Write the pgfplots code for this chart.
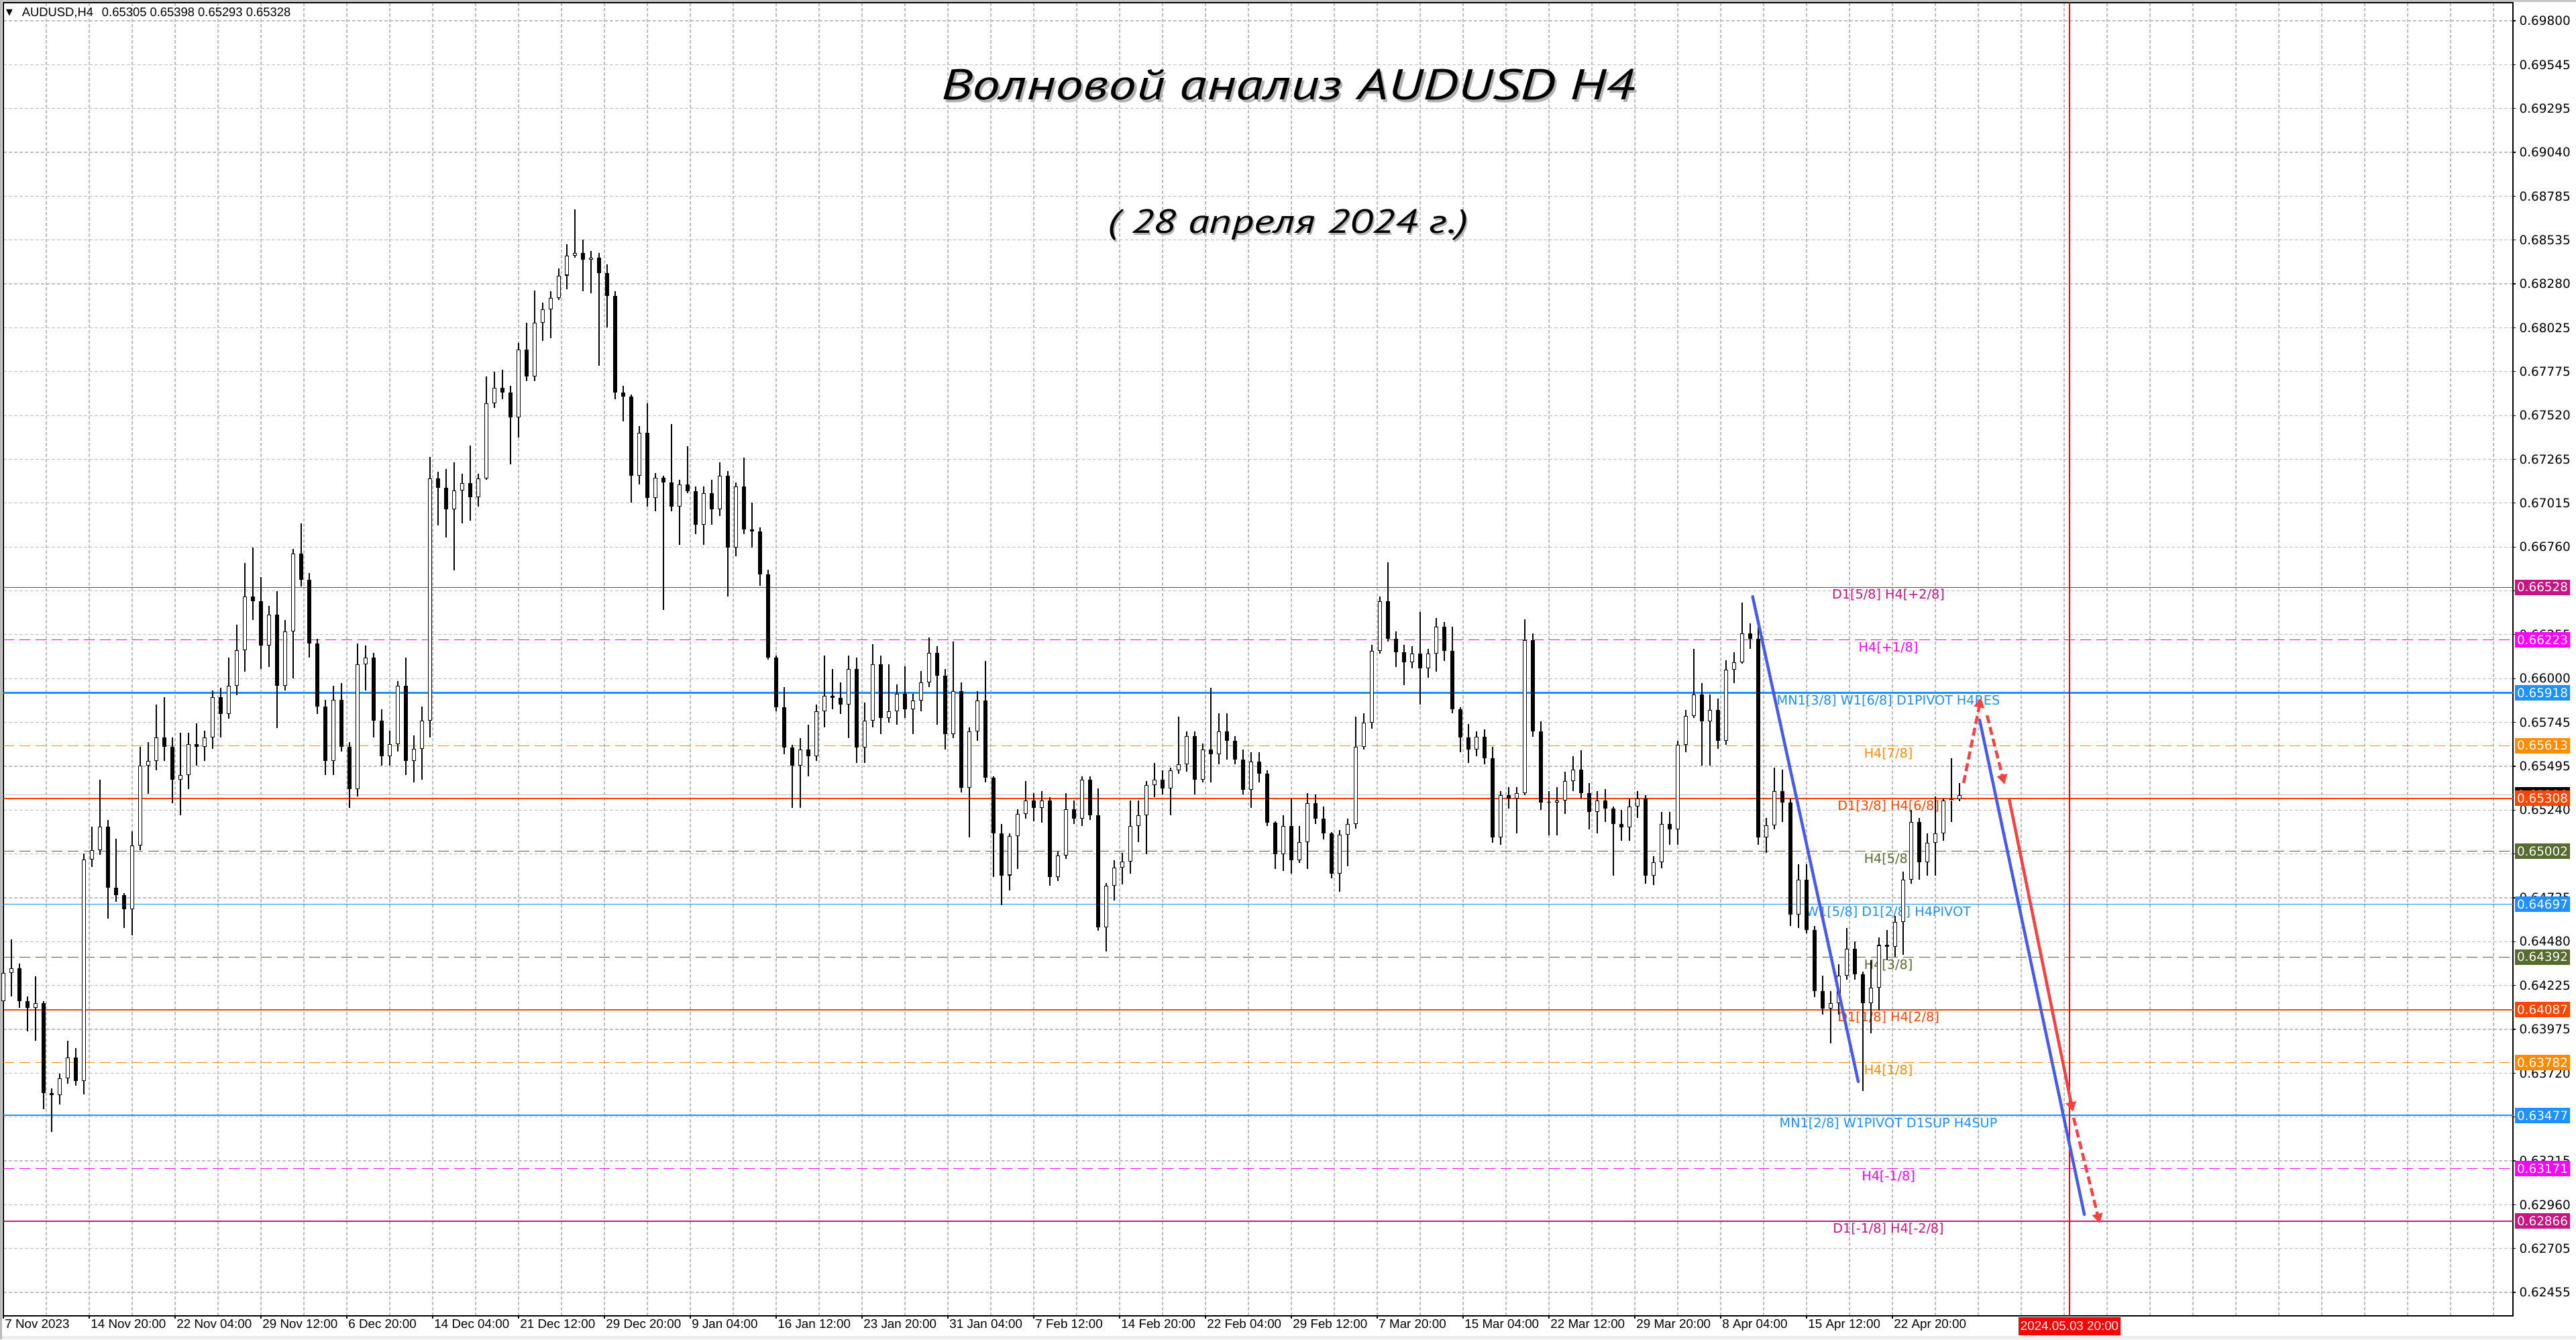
\documentclass[border=0pt]{standalone}
\usepackage{fontspec}
\setmainfont{Liberation Sans}
\newfontfamily\dejavu{DejaVu Sans}
\newfontfamily\titlefont{PT Sans}
\usepackage{graphicx}
\usepackage{pgfplots}
\usepackage{pgfplotstable}
\pgfplotsset{compat=1.18}
\usetikzlibrary{arrows.meta}

\definecolor{mvred}{RGB}{199,21,133}
\definecolor{mmag}{RGB}{255,0,255}
\definecolor{dodger}{RGB}{30,144,255}
\definecolor{dorange}{RGB}{255,140,0}
\definecolor{ored}{RGB}{255,69,0}
\definecolor{dolive}{RGB}{85,107,47}
\definecolor{gridgray}{RGB}{192,192,192}
\definecolor{wblue}{RGB}{70,90,240}
\definecolor{rarrow}{RGB}{250,65,65}

\newcommand\pricefont{\dejavu\fontsize{4.6}{5}\selectfont}
\newcommand\datefont{\fontsize{4.7}{5}\selectfont}
\newcommand\lvlfont{\dejavu\fontsize{4.8}{5.5}\selectfont}

% AUDUSD H4, bars grouped by three (x = bar number from 7 Nov 2023 12:00)
\pgfplotstableread{
x o h l c
0 0.64138 0.64383 0.64029 0.64301
3 0.64301 0.64492 0.64165 0.64328
6 0.64328 0.64356 0.64097 0.64138
9 0.64138 0.64165 0.63961 0.64097
12 0.64097 0.64279 0.63907 0.64124
15 0.64124 0.64138 0.63513 0.63608
18 0.63608 0.63635 0.63382 0.63594
21 0.63594 0.63717 0.63540 0.63690
24 0.63690 0.63907 0.63662 0.63812
27 0.63812 0.63866 0.63649 0.63676
30 0.63676 0.64990 0.63600 0.64954
33 0.64954 0.65144 0.64913 0.65008
36 0.65008 0.65416 0.64981 0.65144
39 0.65144 0.65185 0.64614 0.64791
42 0.64791 0.65076 0.64709 0.64750
45 0.64750 0.64763 0.64560 0.64668
48 0.64668 0.65117 0.64519 0.65035
51 0.65035 0.65606 0.65008 0.65498
54 0.65498 0.65633 0.65334 0.65525
57 0.65525 0.65851 0.65470 0.65661
60 0.65661 0.65892 0.65525 0.65606
63 0.65606 0.65661 0.65280 0.65416
66 0.65416 0.65688 0.65212 0.65443
69 0.65443 0.65688 0.65362 0.65620
72 0.65620 0.65742 0.65498 0.65606
75 0.65606 0.65701 0.65525 0.65661
78 0.65661 0.65933 0.65593 0.65892
81 0.65892 0.65946 0.65661 0.65797
84 0.65797 0.66123 0.65769 0.65960
87 0.65960 0.66313 0.65905 0.66164
90 0.66164 0.66667 0.66041 0.66476
93 0.66476 0.66756 0.66340 0.66449
96 0.66449 0.66585 0.66055 0.66191
99 0.66191 0.66422 0.66069 0.66368
102 0.66368 0.66504 0.65715 0.65960
105 0.65960 0.66340 0.65933 0.66272
108 0.66272 0.66748 0.66001 0.66721
111 0.66721 0.66898 0.66531 0.66572
114 0.66572 0.66612 0.66123 0.66204
117 0.66204 0.66232 0.65797 0.65837
120 0.65837 0.65878 0.65443 0.65525
123 0.65525 0.65960 0.65443 0.65878
126 0.65878 0.65973 0.65579 0.65606
129 0.65606 0.65633 0.65253 0.65362
132 0.65362 0.66204 0.65321 0.66082
135 0.66082 0.66191 0.65933 0.66123
138 0.66123 0.66150 0.65661 0.65756
141 0.65756 0.65824 0.65498 0.65552
144 0.65552 0.65701 0.65498 0.65620
147 0.65620 0.65987 0.65579 0.65960
150 0.65960 0.66123 0.65443 0.65525
153 0.65525 0.65674 0.65402 0.65593
156 0.65593 0.65837 0.65416 0.65756
159 0.65756 0.67279 0.65661 0.67156
162 0.67156 0.67197 0.66884 0.67102
165 0.67102 0.67210 0.66816 0.66979
168 0.66979 0.67251 0.66626 0.67088
171 0.67088 0.67183 0.66898 0.67129
174 0.67129 0.67347 0.66911 0.67047
177 0.67047 0.67183 0.66993 0.67156
180 0.67156 0.67745 0.67147 0.67589
183 0.67589 0.67771 0.67563 0.67680
186 0.67680 0.67784 0.67615 0.67654
189 0.67654 0.67693 0.67238 0.67511
192 0.67511 0.67939 0.67394 0.67900
195 0.67900 0.68056 0.67719 0.67745
198 0.67745 0.68243 0.67719 0.68056
201 0.68056 0.68173 0.67952 0.68134
204 0.68134 0.68238 0.67965 0.68199
207 0.68199 0.68368 0.68186 0.68329
210 0.68329 0.68510 0.68251 0.68445
213 0.68445 0.68710 0.68433 0.68459
216 0.68459 0.68536 0.68238 0.68420
219 0.68420 0.68471 0.68225 0.68433
222 0.68433 0.68459 0.67809 0.68342
225 0.68342 0.68394 0.68030 0.68212
228 0.68212 0.68238 0.67615 0.67654
231 0.67654 0.67693 0.67485 0.67628
234 0.67628 0.67641 0.67018 0.67173
237 0.67173 0.67459 0.67122 0.67420
240 0.67420 0.67589 0.66992 0.67044
243 0.67044 0.67186 0.66966 0.67160
246 0.67160 0.67173 0.66395 0.67134
249 0.67134 0.67472 0.66966 0.66992
252 0.66992 0.67147 0.66771 0.67122
255 0.67122 0.67342 0.67070 0.67083
258 0.67083 0.67109 0.66836 0.66888
261 0.66888 0.67109 0.66771 0.67070
264 0.67070 0.67147 0.66888 0.66979
267 0.66979 0.67251 0.66940 0.67173
270 0.67173 0.67199 0.66473 0.66758
273 0.66758 0.67134 0.66706 0.67109
276 0.67109 0.67277 0.66836 0.66862
279 0.66862 0.67018 0.66758 0.66849
282 0.66849 0.66875 0.66537 0.66602
285 0.66602 0.66628 0.66109 0.66122
288 0.66122 0.66135 0.65810 0.65836
291 0.65836 0.65953 0.65564 0.65603
294 0.65603 0.65616 0.65252 0.65499
297 0.65499 0.65655 0.65252 0.65590
300 0.65590 0.65733 0.65434 0.65551
303 0.65551 0.65849 0.65525 0.65810
306 0.65810 0.66135 0.65720 0.65901
309 0.65901 0.66057 0.65823 0.65888
312 0.65888 0.65979 0.65797 0.65849
315 0.65849 0.66135 0.65655 0.66057
318 0.66057 0.66122 0.65512 0.65603
321 0.65603 0.65862 0.65512 0.65759
324 0.65759 0.66200 0.65720 0.66083
327 0.66083 0.66135 0.65681 0.65772
330 0.65772 0.66083 0.65746 0.65810
333 0.65810 0.65966 0.65733 0.65914
336 0.65914 0.66070 0.65772 0.65823
339 0.65823 0.65914 0.65681 0.65875
342 0.65875 0.66044 0.65810 0.65979
345 0.65979 0.66239 0.65953 0.66148
348 0.66148 0.66187 0.65733 0.66018
351 0.66018 0.66057 0.65590 0.65681
354 0.65681 0.66213 0.65655 0.65927
357 0.65927 0.65979 0.65343 0.65369
360 0.65369 0.65720 0.65084 0.65694
363 0.65694 0.65927 0.65642 0.65875
366 0.65875 0.66101 0.65401 0.65427
369 0.65427 0.65435 0.64856 0.65107
372 0.65107 0.65159 0.64692 0.64864
375 0.64864 0.65107 0.64778 0.65089
378 0.65089 0.65245 0.64899 0.65219
381 0.65219 0.65409 0.65193 0.65297
384 0.65297 0.65340 0.65176 0.65254
387 0.65254 0.65349 0.65167 0.65297
390 0.65297 0.65314 0.64804 0.64856
393 0.64856 0.65003 0.64830 0.64977
396 0.64977 0.65340 0.64960 0.65245
399 0.65245 0.65297 0.65159 0.65193
402 0.65193 0.65435 0.65150 0.65418
405 0.65418 0.65435 0.65185 0.65211
408 0.65211 0.65366 0.64544 0.64562
411 0.64562 0.64821 0.64423 0.64804
414 0.64804 0.64951 0.64717 0.64908
417 0.64908 0.64994 0.64813 0.64942
420 0.64942 0.65297 0.64873 0.65150
423 0.65150 0.65297 0.65055 0.65211
426 0.65211 0.65409 0.64986 0.65384
429 0.65384 0.65513 0.65314 0.65418
432 0.65418 0.65470 0.65332 0.65366
435 0.65366 0.65487 0.65211 0.65470
438 0.65470 0.65781 0.65453 0.65505
441 0.65505 0.65695 0.65461 0.65669
444 0.65669 0.65695 0.65332 0.65418
447 0.65418 0.65626 0.65401 0.65591
450 0.65591 0.65946 0.65401 0.65565
453 0.65565 0.65799 0.65505 0.65695
456 0.65695 0.65799 0.65531 0.65643
459 0.65643 0.65669 0.65505 0.65531
462 0.65531 0.65591 0.65332 0.65358
465 0.65358 0.65574 0.65254 0.65522
468 0.65522 0.65574 0.65401 0.65453
471 0.65453 0.65470 0.65150 0.65167
474 0.65167 0.65176 0.64899 0.64986
477 0.64986 0.65211 0.64890 0.65150
480 0.65150 0.65306 0.64873 0.64951
483 0.64951 0.65150 0.64934 0.65055
486 0.65055 0.65340 0.64899 0.65280
489 0.65280 0.65332 0.65159 0.65193
492 0.65193 0.65262 0.65072 0.65107
495 0.65107 0.65115 0.64847 0.64873
498 0.64873 0.65124 0.64769 0.65098
501 0.65098 0.65193 0.64916 0.65159
504 0.65159 0.65781 0.65133 0.65608
507 0.65608 0.65799 0.65591 0.65747
510 0.65747 0.66197 0.65712 0.66162
513 0.66162 0.66473 0.66145 0.66447
516 0.66447 0.66672 0.66214 0.66231
519 0.66231 0.66274 0.66067 0.66153
522 0.66153 0.66197 0.65963 0.66093
525 0.66093 0.66188 0.66058 0.66145
528 0.66145 0.66387 0.65851 0.66058
531 0.66058 0.66171 0.66006 0.66145
534 0.66145 0.66352 0.66041 0.66300
537 0.66300 0.66326 0.66101 0.66162
540 0.66162 0.66300 0.65799 0.65825
543 0.65825 0.65833 0.65574 0.65660
546 0.65660 0.65738 0.65513 0.65591
549 0.65591 0.65696 0.65551 0.65663
552 0.65663 0.65707 0.65507 0.65540
555 0.65540 0.65607 0.65051 0.65084
558 0.65084 0.65351 0.65040 0.65329
561 0.65329 0.65373 0.65251 0.65307
564 0.65307 0.65373 0.65106 0.65340
567 0.65340 0.66341 0.65329 0.66223
570 0.66223 0.66263 0.65663 0.65696
573 0.65696 0.65752 0.65240 0.65284
576 0.65284 0.65351 0.65095 0.65284
579 0.65284 0.65373 0.65095 0.65295
582 0.65295 0.65462 0.65218 0.65407
585 0.65407 0.65551 0.65351 0.65474
588 0.65474 0.65585 0.65307 0.65340
591 0.65340 0.65396 0.65129 0.65229
594 0.65229 0.65351 0.65106 0.65295
597 0.65295 0.65362 0.65173 0.65251
600 0.65251 0.65262 0.64862 0.65162
603 0.65162 0.65240 0.65062 0.65140
606 0.65140 0.65307 0.65062 0.65262
609 0.65262 0.65351 0.65195 0.65307
612 0.65307 0.65329 0.64817 0.64862
615 0.64862 0.64973 0.64806 0.64940
618 0.64940 0.65229 0.64906 0.65162
621 0.65162 0.65229 0.65040 0.65129
624 0.65129 0.65640 0.65040 0.65618
627 0.65618 0.65818 0.65574 0.65785
630 0.65785 0.66174 0.65774 0.65908
633 0.65908 0.65974 0.65496 0.65752
636 0.65752 0.65908 0.65496 0.65818
639 0.65818 0.65885 0.65596 0.65640
642 0.65640 0.66107 0.65618 0.66052
645 0.66052 0.66152 0.65974 0.66096
648 0.66096 0.66441 0.66085 0.66263
651 0.66263 0.66319 0.66174 0.66230
654 0.66230 0.66297 0.65040 0.65084
657 0.65084 0.65195 0.64995 0.65151
660 0.65151 0.65485 0.65129 0.65351
663 0.65351 0.65474 0.65173 0.65284
666 0.65284 0.65307 0.64573 0.64639
669 0.64639 0.64928 0.64561 0.64839
672 0.64839 0.64928 0.64528 0.64550
675 0.64550 0.64573 0.64161 0.64194
678 0.64194 0.64283 0.64061 0.64094
681 0.64094 0.64194 0.63894 0.64127
684 0.64127 0.64350 0.64061 0.64283
687 0.64283 0.64561 0.64261 0.64439
690 0.64439 0.64484 0.64261 0.64294
693 0.64294 0.64306 0.63616 0.64127
696 0.64127 0.64372 0.63950 0.64216
699 0.64216 0.64506 0.64083 0.64461
702 0.64461 0.64550 0.64372 0.64450
705 0.64450 0.64628 0.64395 0.64595
708 0.64595 0.64884 0.64406 0.64839
711 0.64839 0.65240 0.64817 0.65173
714 0.65173 0.65195 0.64839 0.64940
717 0.64940 0.65106 0.64862 0.65051
720 0.65051 0.65318 0.64862 0.65106
723 0.65106 0.65307 0.65062 0.65295
726 0.65295 0.65540 0.65173 0.65305
729 0.65305 0.65398 0.65293 0.65328
}\candles

\begin{document}
\begin{tikzpicture}
\fill[white] (0,0) rectangle (960pt,499pt);
\path[use as bounding box] (0,0) rectangle (960pt,499pt);
\fill[gray!45] (0,498.2pt) rectangle (960pt,499pt);
\fill[gray!15] (0,0) rectangle (960pt,1.2pt);
\fill[gray!55] (0,0) rectangle (0.8pt,499pt);

\begin{axis}[
  at={(1.25pt,8.75pt)}, anchor=south west,
  scale only axis, width=935.25pt, height=489.25pt,
  xmin=0, xmax=935.25, ymin=0.623194, ymax=0.699047,
  clip=false,
  axis line style={black, line width=0.45pt},
  xtick pos=bottom, ytick pos=right,
  tick align=outside, major tick length=1pt, minor tick length=0pt,
  tick style={black, line width=0.3pt},
  xtick={0,32,...,704},
  xticklabels={7 Nov 2023, 14 Nov 20:00, 22 Nov 04:00, 29 Nov 12:00, 6 Dec 20:00,
    14 Dec 04:00, 21 Dec 12:00, 29 Dec 20:00, 9 Jan 04:00, 16 Jan 12:00, 23 Jan 20:00,
    31 Jan 04:00, 7 Feb 12:00, 14 Feb 20:00, 22 Feb 04:00, 29 Feb 12:00, 7 Mar 20:00,
    15 Mar 04:00, 22 Mar 12:00, 29 Mar 20:00, 8 Apr 04:00, 15 Apr 12:00, 22 Apr 20:00},
  minor xtick={16,48,80,112,144,176,208,240,272,304,336,368,400,432,464,496,528,560,
    592,624,656,688,720,736,752,768,784,800,816,832,848,864,880,896,912,928},
  ytick={0.698000,0.695467,0.692934,0.690402,0.687869,0.685336,0.682803,0.680270,
    0.677738,0.675205,0.672672,0.670139,0.667606,0.665074,0.662541,0.660008,0.657475,
    0.654942,0.652410,0.649877,0.647344,0.644811,0.642278,0.639746,0.637213,0.634680,
    0.632147,0.629614,0.627082,0.624549},
  yticklabels={0.69800,0.69545,0.69295,0.69040,0.68785,0.68535,0.68280,0.68025,
    0.67775,0.67520,0.67265,0.67015,0.66760,,0.66255,0.66000,0.65745,
    0.65495,0.65240,,0.64735,0.64480,0.64225,0.63975,0.63720,,
    0.63215,0.62960,0.62705,0.62455},
  grid=both,
  major grid style={gridgray, line width=0.3pt, dash pattern=on 1.25pt off 0.75pt},
  minor grid style={gridgray, line width=0.3pt, dash pattern=on 1.25pt off 0.75pt},
  yticklabel style={font=\pricefont, anchor=west, inner sep=0pt, xshift=1.2pt},
  xticklabel style={font=\datefont, anchor=base west, inner sep=0pt, xshift=0.4pt, yshift=-3.5pt},
]

% murrey levels and pivots
\addplot[mvred, line width=0.3pt] coordinates {(0,0.66528) (935.25,0.66528)};
\addplot[mmag, line width=0.3pt, dash pattern=on 4pt off 2pt] coordinates {(0,0.66223) (935.25,0.66223)};
\addplot[dodger, line width=0.55pt] coordinates {(0,0.65918) (935.25,0.65918)};
\addplot[dorange, line width=0.3pt, dash pattern=on 4pt off 2pt] coordinates {(0,0.65613) (935.25,0.65613)};
\addplot[gridgray, line width=0.3pt] coordinates {(0,0.65328) (935.25,0.65328)};
\addplot[ored, line width=0.3pt] coordinates {(0,0.65308) (935.25,0.65308)};
\addplot[dolive, line width=0.3pt, dash pattern=on 4pt off 2pt] coordinates {(0,0.65002) (935.25,0.65002)};
\addplot[dodger, line width=0.3pt] coordinates {(0,0.64697) (935.25,0.64697)};
\addplot[dolive, line width=0.3pt, dash pattern=on 4pt off 2pt] coordinates {(0,0.64392) (935.25,0.64392)};
\addplot[ored, line width=0.3pt] coordinates {(0,0.64087) (935.25,0.64087)};
\addplot[dorange, line width=0.3pt, dash pattern=on 4pt off 2pt] coordinates {(0,0.63782) (935.25,0.63782)};
\addplot[dodger, line width=0.55pt] coordinates {(0,0.63477) (935.25,0.63477)};
\addplot[mmag, line width=0.3pt, dash pattern=on 4pt off 2pt] coordinates {(0,0.63171) (935.25,0.63171)};
\addplot[mvred, line width=0.3pt] coordinates {(0,0.62866) (935.25,0.62866)};
\addplot[red, line width=0.3pt] coordinates {(770,0.623194) (770,0.699047)};

\foreach \lp/\lc/\lt in {0.66528/mvred/{D1[5/8] H4[+2/8]}, 0.66223/mmag/{H4[+1/8]},
  0.65918/dodger/{MN1[3/8] W1[6/8] D1PIVOT H4RES}, 0.65613/dorange/{H4[7/8]},
  0.65308/ored/{D1[3/8] H4[6/8]}, 0.65002/dolive/{H4[5/8]},
  0.64697/dodger/{W1[5/8] D1[2/8] H4PIVOT}, 0.64392/dolive/{H4[3/8]},
  0.64087/ored/{D1[1/8] H4[2/8]}, 0.63782/dorange/{H4[1/8]},
  0.63477/dodger/{MN1[2/8] W1PIVOT D1SUP H4SUP}, 0.63171/mmag/{H4[-1/8]},
  0.62866/mvred/{D1[-1/8] H4[-2/8]}}{
  \edef\tmp{\noexpand\node[text=\lc, font=\noexpand\lvlfont, anchor=north, inner sep=0pt,
    yshift=-0.6pt] at (axis cs:702.5,\lp) {\lt};}
  \tmp
}

% candles: wicks, bodies, hollow bull bodies
\addplot[draw=none, mark=none, error bars/.cd, y dir=plus, y explicit, error mark=none,
  error bar style={draw=black, solid, line width=0.3pt}]
  table[x=x, y=l, y error plus expr=\thisrow{h}-\thisrow{l}] {\candles};
\addplot[draw=none, mark=none, error bars/.cd, y dir=plus, y explicit, error mark=none,
  error bar style={draw=black, solid, line width=1.5pt}]
  table[x=x, y expr={min(\thisrow{o},\thisrow{c})},
    y error plus expr={max(abs(\thisrow{c}-\thisrow{o}),0.00004)}] {\candles};
\addplot[draw=none, mark=none, error bars/.cd, y dir=plus, y explicit, error mark=none,
  error bar style={draw=white, solid, line width=0.95pt}]
  table[x=x, y expr={\thisrow{o}+0.00004},
    y error plus expr={max(\thisrow{c}-\thisrow{o}-0.00008,0)}] {\candles};

% wave lines and forecast arrows
\addplot[wblue, line width=1.1pt, line cap=round] coordinates {(651.9,0.66474) (691.25,0.63672)};
\addplot[wblue, line width=1.1pt, line cap=round] coordinates {(736.5,0.65761) (775.5,0.62905)};
\addplot[rarrow, line width=1.1pt, dash pattern=on 3pt off 1.5pt, -{Triangle[length=3.6pt,width=3.8pt]}]
  coordinates {(730.5,0.65397) (737,0.65889)};
\addplot[rarrow, line width=1.1pt, dash pattern=on 3pt off 1.5pt, -{Triangle[length=3.6pt,width=3.8pt]}]
  coordinates {(739.25,0.65788) (745.75,0.65389)};
\addplot[rarrow, line width=1.1pt, -{Triangle[length=3.6pt,width=3.8pt]}]
  coordinates {(747.5,0.65304) (771.25,0.63498)};
\addplot[rarrow, line width=1.1pt, dash pattern=on 3pt off 1.5pt, -{Triangle[length=3.6pt,width=3.8pt]}]
  coordinates {(771.5,0.63463) (781.25,0.62854)};

\node[fill=red, text=white, font=\datefont, minimum width=38pt, minimum height=6.8pt,
  inner sep=0pt, anchor=north, yshift=-0.25pt] at (axis cs:770,0.623194) {2024.05.03 20:00};

\pgfplotsinvokeforeach{66528,66223,65918,65613,65328,65308,65002,64697,64392,64087,63782,63477,63171,62866}{
  \coordinate (b#1) at (axis cs:935.25,0.#1);
}
\end{axis}

% price boxes on the scale
\foreach \bp/\bc in {66528/mvred,66223/mmag,65918/dodger,65613/dorange,65328/black,65308/ored,
  65002/dolive,64697/dodger,64392/dolive,64087/ored,63782/dorange,63477/dodger,63171/mmag,62866/mvred}{
  \node[fill=\bc, text=white, font=\pricefont, minimum width=20.5pt, minimum height=5.75pt,
    inner sep=0pt] at ([xshift=11pt]b\bp) {0.\bp};
}

\node[font=\dejavu\fontsize{3.2}{4}\selectfont, inner sep=0pt] at (3.5pt,494.3pt) {▼};
\node[anchor=west, inner sep=0pt, font=\fontsize{4.6}{5}\selectfont] at (8pt,494.3pt)
  {AUDUSD,H4\hspace{0.7em}0.65305 0.65398 0.65293 0.65328};

\node[text=gray!60, font=\titlefont\itshape\fontsize{16}{18}\selectfont, inner sep=0pt]
  at (480.8pt,466.5pt) {\scalebox{1.3}[1]{Волновой анализ AUDUSD H4}};
\node[text=black, font=\titlefont\itshape\fontsize{16}{18}\selectfont, inner sep=0pt]
  at (480pt,467.5pt) {\scalebox{1.3}[1]{Волновой анализ AUDUSD H4}};
\node[text=gray!60, font=\titlefont\itshape\fontsize{12.5}{14}\selectfont, inner sep=0pt]
  at (480.5pt,414.5pt) {\scalebox{1.3}[1]{( 28 апреля 2024 г.)}};
\node[text=black, font=\titlefont\itshape\fontsize{12.5}{14}\selectfont, inner sep=0pt]
  at (480pt,415.2pt) {\scalebox{1.3}[1]{( 28 апреля 2024 г.)}};
\end{tikzpicture}
\end{document}
